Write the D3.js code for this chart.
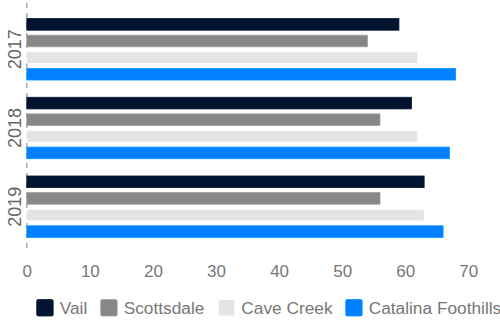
<!DOCTYPE html>
<html><head><meta charset="utf-8">
<script src="https://cdn.jsdelivr.net/npm/d3@7"></script>
<style>body{margin:0;background:#fff}svg{display:block;font-family:"Liberation Sans",Arial,sans-serif}</style>
</head><body><svg id="c" width="500" height="320"></svg>
<script>
const years = ["2017", "2018", "2019"];
const seriesNames = ["Vail", "Scottsdale", "Cave Creek", "Catalina Foothills"];
const vail = [59, 61, 63];
const scottsdale = [54, 56, 56];
const caveCreek = [62, 62, 63];
const catalina = [68, 67, 66];
const xTicks = [0, 10, 20, 30, 40, 50, 60, 70];
const colors = ["#00142f", "#878787", "#e4e4e4", "#0080ff"];

const values = [vail, scottsdale, caveCreek, catalina];
const svg = d3.select("#c");
const x = d3.scaleLinear().domain([0, 70]).range([26.8, 468.3]);
const y0 = d3.scaleBand().domain(years).range([3.5, 252.5]).paddingOuter(0.082).paddingInner(0);
const y1 = d3.scaleBand().domain(seriesNames).range([0, y0.bandwidth()]).paddingInner(0.3).paddingOuter(0.52);

// axis line (dashed)
svg.append("line").attr("x1", x(0)).attr("x2", x(0)).attr("y1", 3).attr("y2", 252)
  .attr("stroke", "#aaa").attr("stroke-width", 1.5).attr("stroke-dasharray", "5,5");

const g = svg.append("g");
years.forEach((yr, yi) => {
  seriesNames.forEach((s, si) => {
    const c = colors[si];
    g.append("rect")
      .attr("x", x(0))
      .attr("y", y0(yr) + y1(s))
      .attr("width", x(values[si][yi]) - x(0))
      .attr("height", y1.bandwidth())
      .attr("fill", c)
      .attr("stroke", d3.color(c).brighter(0.5))
      .attr("stroke-width", 0.8);
  });
  svg.append("text")
    .attr("transform", `translate(${20.7},${y0(yr) + y0.bandwidth() / 2}) rotate(-90)`)
    .attr("text-anchor", "middle")
    .attr("fill", "#666").attr("font-size", 18).text(yr);
});

// x axis labels
const xAxis = d3.axisBottom(x).tickValues(xTicks).tickSize(0).tickPadding(0);
const ax = svg.append("g").attr("transform", "translate(0,264.5)").call(xAxis);
ax.select(".domain").remove();
ax.selectAll("text").attr("fill", "#777").attr("font-size", 17)
  .attr("font-family", "'Liberation Sans', Arial, sans-serif").attr("dy", "0.71em");

// legend
const legX = [36.7, 100.7, 218.3, 345.7];
const leg = svg.append("g");
seriesNames.forEach((s, i) => {
  leg.append("rect").attr("x", legX[i]).attr("y", 299.5).attr("width", 16.5).attr("height", 16.5)
    .attr("rx", 1.5).attr("fill", colors[i]).attr("stroke", d3.color(colors[i]).brighter(0.5)).attr("stroke-width", 0.8);
  leg.append("text").attr("x", legX[i] + 23).attr("y", 314).attr("fill", "#777")
    .attr("font-size", 17.3).text(s);
});
</script></body></html>
